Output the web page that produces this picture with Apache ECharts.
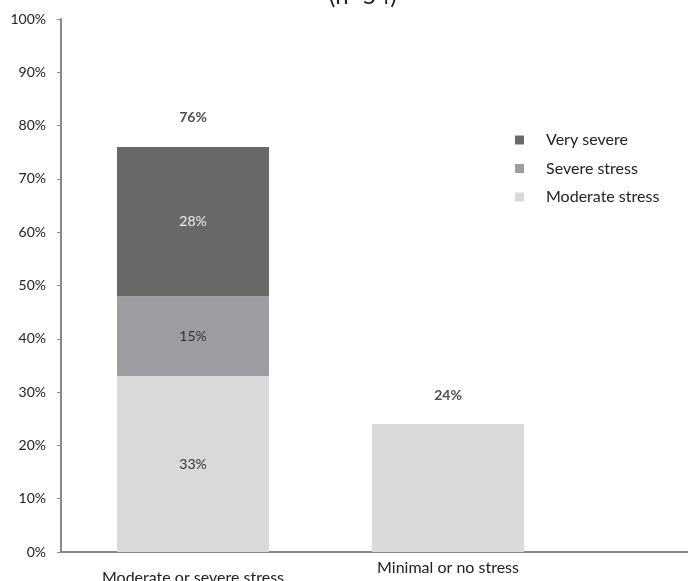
<!DOCTYPE html>
<html>
<head>
<meta charset="utf-8">
<script src="https://cdn.jsdelivr.net/npm/echarts@6/dist/echarts.min.js"></script>
<style>
  html, body { margin: 0; padding: 0; background: #fff; }
  #chart { width: 688px; height: 581px; }
</style>
</head>
<body>
<div id="chart"></div>
<script>
// Categories on the x axis (third slot left empty so the axis runs on to the edge)
var categories = ['Moderate or severe stress', 'Minimal or no stress', ''];

// Stacked shares, in percent
var moderateStress = [33, '-', '-'];
var severeStress = [15, '-', '-'];
var verySevere = [28, '-', '-'];
var minimalStress = ['-', 24, '-'];
var totals = [76, 24, '-'];

var yTicks = [0, 10, 20, 30, 40, 50, 60, 70, 80, 90, 100];

var FONT = 'Lato, "Open Sans", sans-serif';
var chart = echarts.init(document.getElementById('chart'));

function segLabel(color) {
  return {
    show: true, position: 'inside', color: color,
    fontFamily: FONT, fontSize: 14,
    formatter: function (p) { return p.value + '%'; }
  };
}

chart.setOption({
  animation: false,
  backgroundColor: '#ffffff',
  textStyle: { fontFamily: FONT },
  graphic: [
    { type: 'text', left: 329, top: -16,
      style: { text: '(n=54)', font: '24px ' + FONT, fill: '#222' } },
    // short stretch of the x axis line between the y axis and the first band
    { type: 'rect', shape: { x: 61, y: 551, width: 6, height: 2 },
      style: { fill: '#888' }, z: 10 }
  ],
  legend: {
    orient: 'vertical',
    left: 510, top: 127,
    itemWidth: 9, itemHeight: 9, itemGap: 12.5,
    icon: 'rect',
    data: ['Very severe', 'Severe stress', 'Moderate stress'],
    textStyle: { fontFamily: FONT, fontSize: 16, color: '#222', padding: [0, 0, 0, 17] }
  },
  grid: { left: 65.5, top: 19, width: 765, height: 533, containLabel: false, outerBoundsMode: 'none' },
  xAxis: {
    type: 'category',
    data: [
      { value: categories[0], textStyle: { padding: [10, 0, 0, 0] } },
      { value: categories[1] },
      { value: categories[2] }
    ],
    axisLine: { lineStyle: { color: '#888', width: 2 } },
    axisTick: { show: false },
    axisLabel: { fontFamily: FONT, fontSize: 16, color: '#222', margin: 8, interval: 0 }
  },
  yAxis: {
    type: 'value', min: 0, max: 100, interval: 10,
    offset: 4.5,
    axisLine: { show: true, lineStyle: { color: '#888', width: 2 } },
    axisTick: { show: true, length: 4, lineStyle: { color: '#888' } },
    splitLine: { show: false },
    axisLabel: {
      fontFamily: FONT, fontSize: 14, color: '#222', margin: 15,
      formatter: function (v) { return yTicks.indexOf(v) >= 0 ? v + '%' : ''; }
    }
  },
  series: [
    { name: 'Moderate stress', type: 'bar', stack: 's', barWidth: 152,
      data: moderateStress, itemStyle: { color: '#d9d9d9' }, label: segLabel('#333') },
    { name: 'Severe stress', type: 'bar', stack: 's', barWidth: 152,
      data: severeStress, itemStyle: { color: '#9c9da0' }, label: segLabel('#333') },
    { name: 'Very severe', type: 'bar', stack: 's', barWidth: 152,
      data: verySevere, itemStyle: { color: '#686868' }, label: segLabel('#f0f0f0') },
    { name: 'Minimal or no stress', type: 'bar', stack: 's', barWidth: 152,
      data: minimalStress, itemStyle: { color: '#d9d9d9' }, label: { show: false } },
    { name: 'Total', type: 'scatter', symbolSize: 0, data: totals,
      label: {
        show: true, position: 'top', distance: 22,
        fontFamily: FONT, fontSize: 14, fontWeight: 'bold', color: '#222',
        formatter: function (p) { return p.value + '%'; }
      } }
  ]
});
</script>
</body>
</html>
